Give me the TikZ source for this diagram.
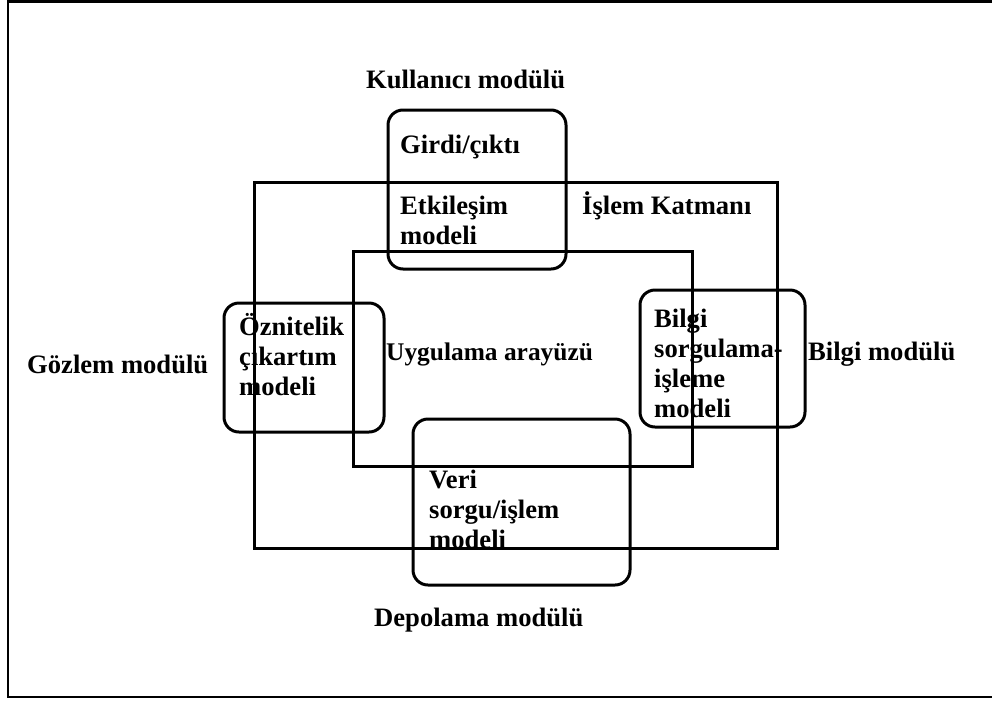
\documentclass[tikz,border=0pt]{standalone}
\usepackage{fontspec}
\setmainfont{Liberation Serif}
\begin{document}
\begin{tikzpicture}[x=1pt,y=-1pt,
  box/.style={draw=black,line width=3pt},
  rbox/.style={draw=black,line width=3pt,rounded corners=15pt},
  lbl/.style={anchor=base west,inner sep=0pt,align=left,
    font=\bfseries\fontsize{26.6}{30}\selectfont}]
\useasboundingbox (0,0) rectangle (992,702);
% outer frame
\draw[line width=2.8pt] (992,1.5) -- (8,1.5) -- (8,697) -- (992,697);
% layers
\draw[box] (254,182) rectangle (777,548);
\draw[box] (353,251) rectangle (692,466);
% modules
\draw[rbox] (388,110) rectangle (566,269);
\draw[rbox] (224,303) rectangle (384,432);
\draw[rbox] (640,290) rectangle (805,427);
\draw[rbox] (413,419) rectangle (630,585);
% texts (base anchor of a multi-line node = last line's baseline)
\node[lbl] (kul) at (366,88) {Kullanıcı modülü};
\node[lbl] (gir) at (400,153) {Girdi/çıktı};
\node[lbl] (etk) at (400,244) {Etkileşim\\modeli};
\node[lbl] (isl) at (582,214) {İşlem Katmanı};
\node[lbl] (ozn) at (239,395) {Öznitelik\\çıkartım\\modeli};
\node[lbl,font=\bfseries\fontsize{25.4}{30}\selectfont] (uyg) at (386,360) {Uygulama arayüzü};
\node[lbl] (goz) at (27,373) {Gözlem modülü};
\node[lbl] (bsm) at (654,417) {Bilgi\\sorgulama-\\işleme\\modeli};
\node[lbl] (bil) at (808,360) {Bilgi modülü};
\node[lbl] (ver) at (429,548) {Veri\\sorgu/işlem\\modeli};
\node[lbl] (dep) at (374,626) {Depolama modülü};
\end{tikzpicture}
\end{document}
